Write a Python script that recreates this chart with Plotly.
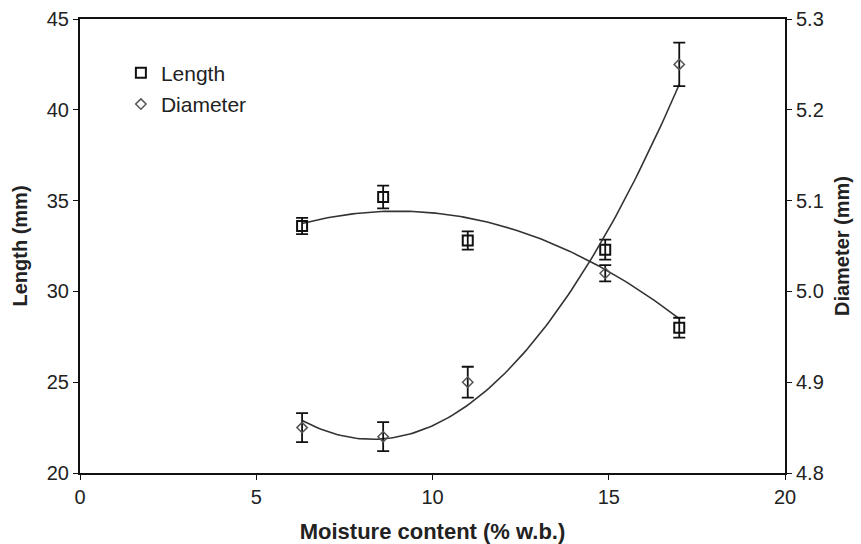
import numpy as np
import plotly.graph_objects as go

moisture = [6.3, 8.6, 11.0, 14.9, 17.0]
length_mm = [33.6, 35.2, 32.8, 32.3, 28.0]
length_err = [0.45, 0.63, 0.5, 0.55, 0.55]
diameter_mm = [4.85, 4.84, 4.90, 5.02, 5.25]
diameter_err = [0.016, 0.016, 0.017, 0.009, 0.024]

x_ticks = [0, 5, 10, 15, 20]
len_ticks = [20, 25, 30, 35, 40, 45]
dia_ticks = [4.8, 4.9, 5.0, 5.1, 5.2, 5.3]

# second-order trendlines fitted to the data
xf = np.linspace(min(moisture), max(moisture), 120)
len_fit = np.polyval(np.polyfit(moisture, length_mm, 2), xf)
dia_fit = np.polyval(np.polyfit(moisture, diameter_mm, 2), xf)

FONT = "Liberation Sans, Arial, sans-serif"
fig = go.Figure()

fig.add_trace(go.Scatter(x=xf, y=len_fit, mode="lines", line=dict(color="#333", width=1.6),
                         showlegend=False, hoverinfo="skip"))
fig.add_trace(go.Scatter(x=xf, y=dia_fit, mode="lines", line=dict(color="#333", width=1.6),
                         showlegend=False, hoverinfo="skip", yaxis="y2"))

fig.add_trace(go.Scatter(
    x=moisture, y=length_mm, mode="markers", name="Length", legendgroup="a",
    marker=dict(symbol="square-open", size=10, color="#111", line=dict(width=2, color="#111")),
    error_y=dict(type="data", array=length_err, color="#111", thickness=1.8, width=6),
))
fig.add_trace(go.Scatter(
    x=moisture, y=diameter_mm, mode="markers", name="Diameter", yaxis="y2", legendgroup="b",
    marker=dict(symbol="diamond-open", size=8, color="#555", line=dict(width=1.5, color="#555")),
    error_y=dict(type="data", array=diameter_err, color="#111", thickness=1.8, width=6),
))

axis_common = dict(showline=True, linecolor="#111", linewidth=2, ticks="outside", ticklen=5,
                   tickcolor="#111", showgrid=False, zeroline=False, automargin=False,
                   tickfont=dict(family=FONT, size=20, color="#222"))

fig.update_layout(
    width=861, height=544,
    margin=dict(l=80, r=76, t=19, b=71),
    plot_bgcolor="white", paper_bgcolor="white",
    xaxis=dict(range=[0, 20], tickvals=x_ticks, mirror=True,
               title=dict(text="<b>Moisture content (% w.b.)</b>", standoff=17,
                          font=dict(family=FONT, size=22, color="#222")),
               **axis_common),
    yaxis=dict(range=[20, 45], tickvals=len_ticks,
               title=dict(text="<b>Length (mm)</b>", standoff=14,
                          font=dict(family=FONT, size=20, color="#222")),
               **axis_common),
    yaxis2=dict(range=[4.8, 5.3], tickvals=dia_ticks, ticktext=[f"{v:.1f}" for v in dia_ticks],
                overlaying="y", side="right",
                title=dict(text="<b>Diameter (mm)</b>", standoff=12,
                           font=dict(family=FONT, size=20, color="#222")),
                **axis_common),
    legend=dict(x=0.058, y=0.926, xanchor="left", yanchor="top", bgcolor="rgba(0,0,0,0)",
                font=dict(family=FONT, size=21, color="#222"), itemwidth=30, tracegroupgap=1),
    showlegend=True,
)

fig.write_html("out.html")
